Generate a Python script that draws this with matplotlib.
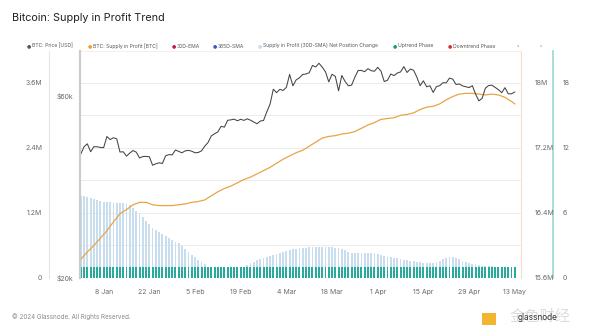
import matplotlib
matplotlib.use("Agg")
import matplotlib.pyplot as plt
from matplotlib.patches import Rectangle
import numpy as np
import pandas as pd

plt.rcParams['font.family'] = ['Inter', 'DejaVu Sans']

# daily series, 1 Jan - 13 May 2024
dates = pd.date_range('2024-01-01', '2024-05-13')

btc_price = [
    42280, 44180, 44950, 42850, 44180, 44160, 43970, 43930, 46970, 46110,
    46630, 46340, 42780, 42840, 41730, 42510, 43150, 42740, 41260, 41620,
    41660, 41580, 39500, 39850, 40080, 39930, 41820, 42120, 42030, 43300,
    42940, 42580, 43080, 43190, 43000, 42580, 42660, 43090, 44330, 45300,
    47150, 47770, 48290, 49960, 49700, 51800, 51940, 52160, 51660, 52120,
    51780, 52260, 51840, 51300, 50730, 51570, 51730, 54520, 57090, 62500,
    61200, 62440, 62030, 63170, 68330, 63800, 66110, 66930, 68300, 68500,
    69020, 72120, 71480, 73080, 71400, 69400, 65320, 68390, 67550, 61910,
    67910, 65490, 63780, 64060, 67230, 69960, 69990, 69450, 70740, 69890,
    69650, 71330, 69700, 65450, 65980, 68510, 67840, 68900, 69360, 71630,
    69140, 70590, 70060, 67190, 63820, 65740, 63420, 63790, 61280, 63510,
    63840, 64990, 64930, 66840, 66410, 64290, 64500, 63760, 63420, 63110,
    63840, 60640, 58250, 59120, 62890, 63890, 64030, 63160, 62330, 61190,
    63070, 60790, 60790, 61450,
]

# supply in profit (BTC, millions), read every 2nd day + last day
supply_dates = list(pd.date_range('2024-01-01', '2024-05-12', freq='2D')) + [pd.Timestamp('2024-05-13')]
supply_in_profit = [
    15.83, 15.92, 16.00, 16.09, 16.18, 16.29, 16.39, 16.44, 16.50, 16.53,
    16.53, 16.50, 16.49, 16.49, 16.49, 16.50, 16.51, 16.53, 16.54, 16.56,
    16.61, 16.66, 16.70, 16.73, 16.77, 16.81, 16.84, 16.88, 16.92, 16.96,
    17.01, 17.06, 17.10, 17.14, 17.17, 17.22, 17.27, 17.32, 17.34, 17.35,
    17.37, 17.38, 17.40, 17.44, 17.48, 17.51, 17.55, 17.56, 17.57, 17.60,
    17.61, 17.63, 17.67, 17.70, 17.71, 17.74, 17.79, 17.83, 17.86, 17.87,
    17.87, 17.86, 17.85, 17.86, 17.85, 17.82, 17.77, 17.74,
]

# supply in profit (30D-SMA) net position change, millions BTC
net_change = [
    1.52, 1.51, 1.49, 1.48, 1.46, 1.44, 1.42, 1.41, 1.40, 1.40, 1.39, 1.39,
    1.39, 1.39, 1.37, 1.34, 1.30,
    1.24, 1.18, 1.12, 1.06, 1.00, 0.93,
    0.89, 0.85, 0.81, 0.77, 0.73, 0.70, 0.67, 0.64,
    0.59, 0.53, 0.48, 0.43, 0.38, 0.33, 0.29,
    0.25, 0.20, 0.16, 0.13, 0.11,
    0.10, 0.09, 0.08, 0.08, 0.09, 0.10, 0.14, 0.19,
    0.24, 0.27, 0.30, 0.33, 0.35, 0.37, 0.39, 0.41, 0.43, 0.44,
    0.46, 0.48, 0.50, 0.51, 0.53, 0.54, 0.55, 0.56, 0.56, 0.57,
    0.57, 0.58, 0.58, 0.58, 0.58, 0.57, 0.57, 0.56, 0.55, 0.53,
    0.51, 0.48, 0.47, 0.46, 0.46, 0.46, 0.46, 0.46, 0.46, 0.46,
    0.44, 0.42, 0.40, 0.39, 0.38, 0.37, 0.36, 0.35, 0.34, 0.33,
    0.32, 0.31, 0.30, 0.29, 0.28, 0.27, 0.27, 0.28, 0.30, 0.32,
    0.35, 0.37, 0.38, 0.38, 0.37, 0.35, 0.32, 0.30, 0.27, 0.26,
    0.25, 0.24, 0.23, 0.23, 0.22, 0.22, 0.21, 0.20, 0.18, 0.15, 0.10, 0.06, 0.03,
]

# uptrend phase flag (every day in uptrend)
uptrend_phase = [
    1, 1, 1, 1, 1, 1, 1, 1, 1, 1, 1, 1, 1, 1, 1, 1, 1, 1, 1, 1,
    1, 1, 1, 1, 1, 1, 1, 1, 1, 1, 1, 1, 1, 1, 1, 1, 1, 1, 1, 1,
    1, 1, 1, 1, 1, 1, 1, 1, 1, 1, 1, 1, 1, 1, 1, 1, 1, 1, 1, 1,
    1, 1, 1, 1, 1, 1, 1, 1, 1, 1, 1, 1, 1, 1, 1, 1, 1, 1, 1, 1,
    1, 1, 1, 1, 1, 1, 1, 1, 1, 1, 1, 1, 1, 1, 1, 1, 1, 1, 1, 1,
    1, 1, 1, 1, 1, 1, 1, 1, 1, 1, 1, 1, 1, 1, 1, 1, 1, 1, 1, 1,
    1, 1, 1, 1, 1, 1, 1, 1, 1, 1, 1, 1, 1, 1,
]

xtick_dates = pd.to_datetime(['2024-01-08', '2024-01-22', '2024-02-05', '2024-02-19', '2024-03-04',
                              '2024-03-18', '2024-04-01', '2024-04-15', '2024-04-29', '2024-05-13'])
xtick_labels = ['8 Jan', '22 Jan', '5 Feb', '19 Feb', '4 Mar', '18 Mar', '1 Apr', '15 Apr', '29 Apr', '13 May']

price_ticks = [20000, 60000]
price_labels = ['$20k', '$60k']
supply_ticks = [15.6, 16.4, 17.2, 18.0]
supply_labels = ['15.6M', '16.4M', '17.2M', '18M']
phase_ticks = [0, 6, 12, 18]
phase_labels = ['0', '6', '12', '18']

legend_names = ['BTC: Price [USD]', 'BTC: Supply in Profit [BTC]', '30D-EMA', '365D-SMA',
                'Supply in Profit (30D-SMA) Net Position Change', 'Uptrend Phase', 'Downtrend Phase']
legend_colors = ['#555555', '#f0a030', '#c2185b', '#2d5fc4', '#c9def0', '#1b9e77', '#d9302f']

TICK = '#6b6b6b'
W, H = 600, 336
PX = 72 / 100  # points per pixel

fig = plt.figure(figsize=(6, 3.36), dpi=100)
fig.patch.set_facecolor('white')

ax = fig.add_axes([80 / W, 58 / H, 441 / W, 227 / H])
ax_up = ax.twinx()
ax_sup = ax.twinx()
ax_px = ax.twinx()

# net position change bars (base axis, left outer)
ax.bar(dates, net_change, width=0.55, color='#c8ddee', linewidth=0, zorder=2)
ax.set_ylim(0, 4.19)
ax.set_yticks([0, 0.6, 1.2, 1.8, 2.4, 3.0, 3.6])
ax.set_yticklabels(['0', '', '1.2M', '', '2.4M', '', '3.6M'])
ax.grid(axis='y', color='#ececec', linewidth=0.7, zorder=0)
ax.set_axisbelow(True)
for s in ['top', 'right', 'bottom']:
    ax.spines[s].set_visible(False)
ax.spines['left'].set_position(('outward', 31 * PX))
ax.spines['left'].set_color('#e6e6e6')
ax.spines['left'].set_linewidth(0.8)
ax.tick_params(axis='y', length=0, labelsize=5, labelcolor=TICK, pad=5)
ax.set_xticks(xtick_dates)
ax.set_xticklabels(xtick_labels)
ax.tick_params(axis='x', length=0, labelsize=5, labelcolor=TICK, pad=8)
ax.set_xlim(pd.Timestamp('2024-01-01') - pd.Timedelta(hours=6), pd.Timestamp('2024-05-14') + pd.Timedelta(hours=22))

# uptrend phase bars (right outer axis)
ax_up.bar(dates, uptrend_phase, width=0.6, color='#2aaa9c', linewidth=0)
ax_up.set_ylim(0, 20.95)
ax_up.set_yticks(phase_ticks)
ax_up.set_yticklabels(phase_labels)
for s in ['top', 'left', 'bottom']:
    ax_up.spines[s].set_visible(False)
ax_up.spines['right'].set_position(('outward', 32 * PX))
ax_up.spines['right'].set_color('#a6dad3')
ax_up.spines['right'].set_linewidth(1.3)
ax_up.tick_params(axis='y', length=0, labelsize=5, labelcolor=TICK, pad=7)

# supply in profit line (right axis)
ax_sup.plot(supply_dates, supply_in_profit, color='#e9a445', linewidth=0.9)
ax_sup.set_ylim(15.6, 18.39)
ax_sup.set_yticks(supply_ticks)
ax_sup.set_yticklabels(supply_labels)
for s in ['left', 'bottom']:
    ax_sup.spines[s].set_visible(False)
ax_sup.spines['right'].set_color('#f6dccb')
ax_sup.spines['top'].set_color('#f8ebe2')
ax_sup.spines['right'].set_linewidth(0.8)
ax_sup.spines['top'].set_linewidth(0.6)
ax_sup.tick_params(axis='y', length=0, labelsize=5, labelcolor=TICK, pad=10)

# BTC price (log, left axis)
ax_px.plot(dates, btc_price, color='#444444', linewidth=0.75)
ax_px.set_yscale('log')
ax_px.set_ylim(20000, 78700)
ax_px.yaxis.tick_left()
ax_px.set_yticks(price_ticks)
ax_px.set_yticklabels(price_labels)
ax_px.yaxis.set_minor_locator(matplotlib.ticker.NullLocator())
for s in ['top', 'right', 'bottom']:
    ax_px.spines[s].set_visible(False)
ax_px.spines['left'].set_color('#cccccc')
ax_px.spines['left'].set_linewidth(1.6)
ax_px.tick_params(axis='y', length=0, labelsize=5, labelcolor=TICK, pad=5)
ax_px.set_xlim(ax.get_xlim())

# title, legend, footer
fig.text(12 / W, 1 - 18 / H, 'Bitcoin: Supply in Profit Trend', fontsize=7.8, color='#222222',
         va='center', ha='left')

legend_x = [27, 88, 172, 213, 258, 393, 448]
for lx, name, col in zip(legend_x, legend_names, legend_colors):
    fig.text(lx / W, 1 - 46 / H, '●', fontsize=3.5, color=col, va='center', ha='left',
             family=['DejaVu Sans'])
    fig.text((lx + 5) / W, 1 - 46 / H, name, fontsize=3.6, color='#555555', va='center', ha='left')
for lx in [517, 540]:
    fig.text(lx / W, 1 - 46 / H, '●', fontsize=2, color='#cccccc', va='center', ha='left',
             family=['DejaVu Sans'])

fig.text(12 / W, 1 - 317 / H, '© 2024 Glassnode. All Rights Reserved.', fontsize=4.5,
         color='#8a8a8a', va='center', ha='left')

# watermark (logo mark, name, and the glassnode word printed over it)
fig.patches.append(Rectangle((482 / W, 1 - 325 / H), 14 / W, 12 / H, transform=fig.transFigure,
                             facecolor='#f2b431', edgecolor='none'))
fig.text(510 / W, 1 - 316 / H, '金色财经', fontsize=11, color='#dcdcdc', va='center', ha='left',
         family=['Noto Sans CJK SC', 'DejaVu Sans'])
fig.text(518 / W, 1 - 317 / H, 'glassnode', fontsize=6, color='#333333', va='center', ha='left')

fig.savefig('out.png', dpi=100)
